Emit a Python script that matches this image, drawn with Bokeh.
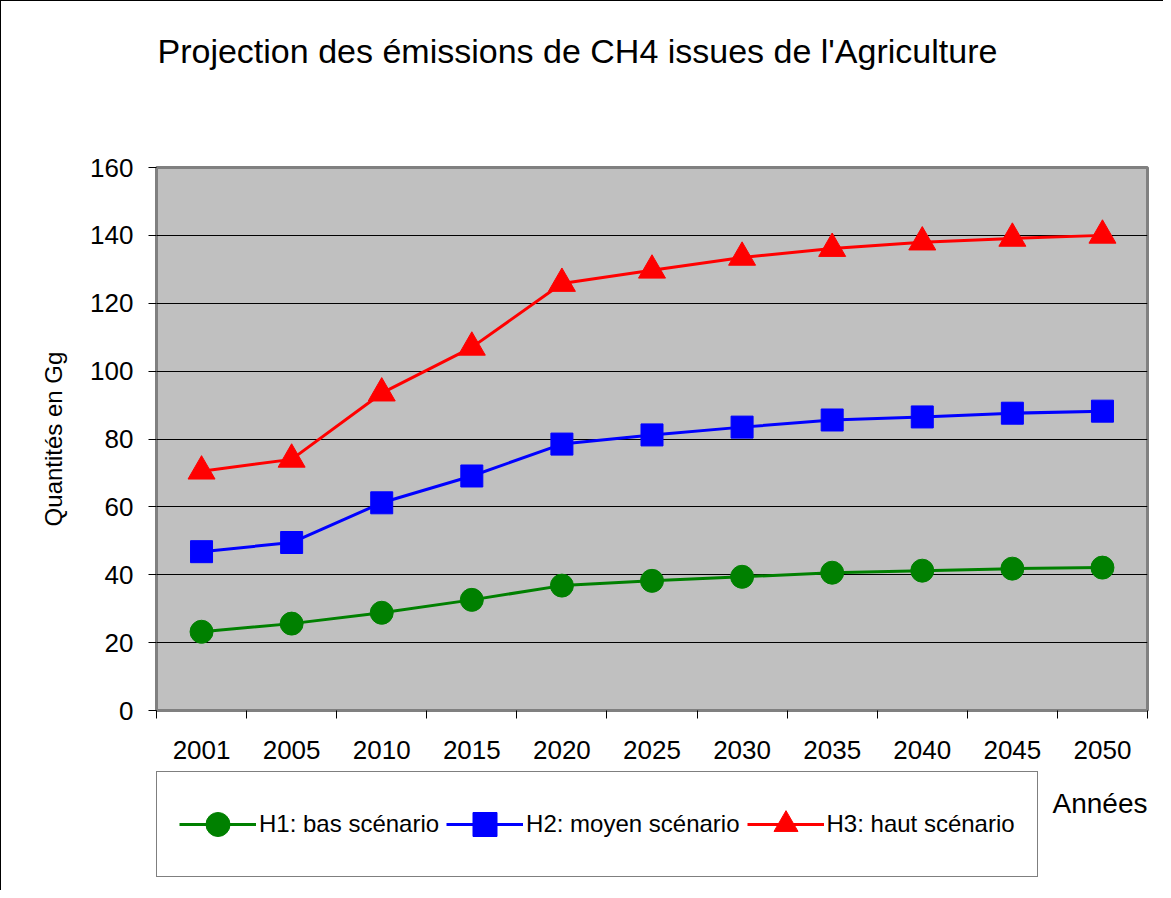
from bokeh.plotting import figure
from bokeh.models import Range1d, FixedTicker, Legend, LegendItem, Label
from bokeh.layouts import column
from bokeh.embed import file_html
from bokeh.resources import INLINE

# ---- data ----
years = ["2001", "2005", "2010", "2015", "2020", "2025", "2030", "2035", "2040", "2045", "2050"]
h1_bas = [23.2, 25.6, 28.8, 32.6, 36.8, 38.2, 39.4, 40.6, 41.2, 41.8, 42.1]
h2_moyen = [46.8, 49.5, 61.2, 69.1, 78.5, 81.2, 83.5, 85.6, 86.5, 87.6, 88.2]
h3_haut = [70.5, 74.0, 93.5, 107.0, 125.8, 129.7, 133.5, 136.1, 138.0, 139.1, 140.0]
y_ticks = [0, 20, 40, 60, 80, 100, 120, 140, 160]
series_labels = ["H1: bas scénario", "H2: moyen scénario", "H3: haut scénario"]
title_text = "Projection des émissions de CH4 issues de l'Agriculture"
y_label = "Quantités en Gg"
x_label = "Années"

FONT = "Liberation Sans"
W = 1162
FRAME_L, FRAME_R = 156, 1147   # page x of the aligned plot frames
colors = ["#008000", "#0000FF", "#FF0000"]
markers = ["circle", "square", "triangle"]
sizes = [23, 22, 27]
series = [h1_bas, h2_moyen, h3_haut]


def blank_fig(h):
    f = figure(width=W, height=h, output_backend="svg", toolbar_location=None,
               x_range=Range1d(FRAME_L, FRAME_R), y_range=Range1d(h, 0),
               x_axis_location=None, y_axis_location=None,
               min_border=0, min_border_left=0, min_border_right=0,
               min_border_top=0, min_border_bottom=0)
    f.outline_line_color = None
    f.background_fill_color = "white"
    f.border_fill_color = "white"
    f.grid.visible = False
    return f


# ---- title strip ----
ft = blank_fig(140)
ft.add_layout(Label(x=157, y=49, text=title_text, text_font=FONT, text_font_size="34px",
                    text_color="black", text_align="left", text_baseline="middle"))

# ---- main chart ----
x = list(range(len(years)))
p = figure(width=W, height=630, output_backend="svg", toolbar_location=None,
           x_range=Range1d(-0.5, len(years) - 0.5), y_range=Range1d(y_ticks[0], y_ticks[-1]),
           min_border_left=155, min_border_right=16, min_border_top=26, min_border_bottom=61)
p.background_fill_color = "#C0C0C0"
p.border_fill_color = "white"
p.outline_line_color = "#808080"
p.outline_line_width = 3

p.xgrid.grid_line_color = None
p.ygrid.grid_line_color = "black"
p.ygrid.grid_line_width = 1
p.ygrid.ticker = FixedTicker(ticks=y_ticks)

p.yaxis.ticker = FixedTicker(ticks=y_ticks)
p.yaxis.major_tick_out = 8
p.yaxis.major_tick_in = 0
p.yaxis.minor_tick_line_color = None
p.yaxis.major_tick_line_color = "black"
p.yaxis.axis_line_color = None
p.yaxis.major_label_text_font = FONT
p.yaxis.major_label_text_font_size = "26px"
p.yaxis.major_label_text_color = "black"
p.yaxis.major_label_standoff = 15
p.yaxis.axis_label = y_label
p.yaxis.axis_label_text_font = FONT
p.yaxis.axis_label_text_font_size = "24px"
p.yaxis.axis_label_text_font_style = "normal"
p.yaxis.axis_label_text_color = "black"
p.yaxis.axis_label_standoff = 20

p.xaxis.ticker = FixedTicker(ticks=x, minor_ticks=[i - 0.5 for i in range(len(years) + 1)])
p.xaxis.major_label_overrides = {i: yr for i, yr in zip(x, years)}
p.xaxis.major_tick_out = 0
p.xaxis.major_tick_in = 0
p.xaxis.major_tick_line_color = None
p.xaxis.minor_tick_out = 8
p.xaxis.minor_tick_in = 0
p.xaxis.minor_tick_line_color = "black"
p.xaxis.axis_line_color = None
p.xaxis.major_label_text_font = FONT
p.xaxis.major_label_text_font_size = "26px"
p.xaxis.major_label_text_color = "black"
p.xaxis.major_label_standoff = 22

for vals, col, mk, sz in zip(series, colors, markers, sizes):
    p.line(x, vals, line_color=col, line_width=3)
    p.scatter(x, vals, marker=mk, size=sz, fill_color=col, line_color=col)

# ---- legend strip (hidden proxies of the same series feed the legend glyphs) ----
fb = blank_fig(119)
items = []
for vals, col, mk, lab in zip(series, colors, markers, series_labels):
    ln = fb.line(x, vals, line_color=col, line_width=3, visible=False)
    sc = fb.scatter(x, vals, marker=mk, fill_color=col, line_color=col, visible=False)
    items.append(LegendItem(label=lab, renderers=[ln, sc]))
legend = Legend(items=items, orientation="horizontal", location=(0, 13),
                glyph_width=77, glyph_height=60, label_height=60, label_standoff=3,
                spacing=7, padding=22, margin=0,
                border_line_color="black", border_line_width=1,
                background_fill_color="white", background_fill_alpha=1.0,
                inactive_fill_alpha=0.0,
                label_text_font=FONT, label_text_font_size="24px", label_text_color="black")
fb.add_layout(legend)
fb.add_layout(Label(x=1147, y=32, text=x_label, text_font=FONT, text_font_size="28px",
                    text_color="black", text_align="right", text_baseline="middle"))

layout = column(ft, p, fb, spacing=0)
layout.styles = {"border-left": "1px solid black", "border-top": "1px solid black"}

open("out.html", "w").write(file_html(layout, INLINE))
